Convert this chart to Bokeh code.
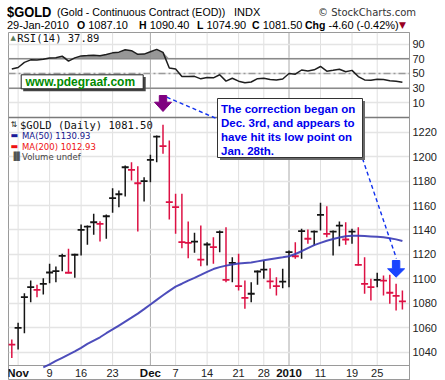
from bokeh.plotting import figure
from bokeh.models import Range1d, FixedTicker, Span, Label, Div, CustomJSTickFormatter
from bokeh.layouts import column
from bokeh.embed import file_html
from bokeh.resources import INLINE

# ------------------------------------------------------------------ data
dates = [
    "2009-10-30",
    "2009-11-02", "2009-11-03", "2009-11-04", "2009-11-05", "2009-11-06",
    "2009-11-09", "2009-11-10", "2009-11-11", "2009-11-12", "2009-11-13",
    "2009-11-16", "2009-11-17", "2009-11-18", "2009-11-19", "2009-11-20",
    "2009-11-23", "2009-11-24", "2009-11-25", "2009-11-26", "2009-11-27",
    "2009-11-30", "2009-12-01", "2009-12-02", "2009-12-03", "2009-12-04",
    "2009-12-07", "2009-12-08", "2009-12-09", "2009-12-10", "2009-12-11",
    "2009-12-14", "2009-12-15", "2009-12-16", "2009-12-17", "2009-12-18",
    "2009-12-21", "2009-12-22", "2009-12-23", "2009-12-24",
    "2009-12-28", "2009-12-29", "2009-12-30", "2009-12-31",
    "2010-01-04", "2010-01-05", "2010-01-06", "2010-01-07", "2010-01-08",
    "2010-01-11", "2010-01-12", "2010-01-13", "2010-01-14", "2010-01-15",
    "2010-01-19", "2010-01-20", "2010-01-21", "2010-01-22",
    "2010-01-25", "2010-01-26", "2010-01-27", "2010-01-28", "2010-01-29",
]
high = [1050.4, 1064.0, 1088.3, 1098.6, 1095.1, 1100.5, 1112.3, 1110.1, 1120.5, 1124.6,
        1120.5, 1144.5, 1143.6, 1153.2, 1147.2, 1152.6, 1174.2, 1172.3, 1192.7, 1195.4,
        1192.2, 1183.2, 1201.5, 1217.3, 1226.0, 1213.2, 1169.6, 1169.6, 1146.9, 1137.7,
        1143.6, 1130.0, 1134.1, 1139.5, 1142.2, 1117.7, 1120.5, 1098.6, 1097.3, 1106.8,
        1115.0, 1108.7, 1101.3, 1108.2, 1123.2, 1130.0, 1140.9, 1140.4, 1139.5, 1162.2,
        1159.4, 1139.5, 1146.9, 1146.3, 1140.9, 1142.2, 1117.7, 1100.0, 1104.9, 1102.7,
        1103.3, 1096.0, 1090.4]
low = [1035.2, 1042.2, 1055.5, 1080.9, 1085.0, 1087.2, 1096.4, 1097.3, 1106.3, 1104.5,
       1100.8, 1119.1, 1127.8, 1136.0, 1130.5, 1132.7, 1154.0, 1158.6, 1167.4, 1180.5,
       1138.7, 1163.3, 1179.1, 1195.4, 1202.3, 1148.5, 1136.8, 1125.1, 1116.9, 1121.3,
       1110.3, 1110.9, 1112.3, 1121.8, 1097.3, 1097.3, 1090.5, 1075.5, 1080.9, 1095.1,
       1100.0, 1091.8, 1086.4, 1092.3, 1093.2, 1116.4, 1116.4, 1128.7, 1127.3, 1139.5,
       1134.1, 1119.1, 1126.7, 1127.8, 1128.7, 1110.9, 1087.8, 1082.3, 1093.2, 1086.4,
       1079.6, 1074.1, 1074.9]
close = [1046.2, 1059.9, 1085.0, 1093.2, 1091.0, 1095.9, 1105.2, 1106.3, 1118.8, 1105.0,
         1119.7, 1140.1, 1142.8, 1146.3, 1145.0, 1151.2, 1166.0, 1169.2, 1191.3, 1189.2,
         1178.2, 1179.9, 1197.4, 1216.4, 1208.5, 1162.7, 1158.6, 1130.0, 1129.5, 1130.5,
         1115.8, 1128.1, 1125.9, 1138.2, 1099.2, 1113.1, 1094.0, 1084.5, 1087.8, 1106.0,
         1107.6, 1098.0, 1094.0, 1097.8, 1121.8, 1118.5, 1139.0, 1132.8, 1138.7, 1152.4,
         1136.8, 1138.7, 1143.6, 1132.2, 1138.7, 1111.5, 1095.9, 1093.2, 1099.2, 1098.6,
         1088.6, 1086.1, 1081.5]
ma50_start = "2009-11-06"
ma50 = [1027.5, 1030.0, 1032.8, 1035.4, 1038.0, 1040.6, 1043.6, 1046.8, 1049.5, 1052.2,
        1055.5, 1058.6, 1061.8, 1065.0, 1068.2, 1071.5, 1075.2, 1079.0, 1082.8, 1086.6,
        1090.2, 1093.6, 1096.0, 1098.6, 1100.8, 1103.2, 1105.7, 1108.0, 1109.6, 1110.8,
        1111.8, 1112.6, 1113.0, 1113.4, 1114.3, 1115.2, 1116.0, 1116.8, 1117.6, 1118.5,
        1120.3, 1122.6, 1125.2, 1127.6, 1129.4, 1131.2, 1132.6, 1133.8, 1134.8, 1135.2,
        1135.2, 1135.0, 1134.7, 1134.4, 1134.0, 1133.2, 1132.3, 1130.9]
rsi = [56.0, 58.1, 65.0, 68.5, 68.3, 69.2, 71.0, 71.3, 73.6, 66.8,
       71.2, 73.9, 74.3, 74.8, 74.2, 75.8, 78.0, 79.0, 82.3, 81.0,
       76.0, 76.3, 79.5, 82.7, 78.7, 57.3, 56.0, 45.9, 45.9, 46.1,
       42.7, 44.5, 44.0, 48.3, 39.6, 43.5, 39.5, 37.3, 38.4, 42.9,
       43.4, 41.8, 41.0, 42.5, 49.9, 49.0, 54.7, 53.3, 54.9, 59.5,
       53.1, 54.4, 55.8, 52.4, 54.2, 45.8, 41.2, 40.8, 42.0, 41.8,
       40.2, 39.3, 37.89]
price_ticks = [1040, 1060, 1080, 1100, 1120, 1140, 1160, 1180, 1200, 1220]
rsi_ticks = [10, 30, 50, 70, 90]
rsi_levels = [30, 50, 70]
tick_dates = ["2009-11-02", "2009-11-09", "2009-11-16", "2009-11-23", "2009-12-01",
              "2009-12-07", "2009-12-14", "2009-12-21", "2009-12-28", "2010-01-04",
              "2010-01-11", "2010-01-19", "2010-01-25"]
tick_labels = ["Nov", "9", "16", "23", "Dec", "7", "14", "21", "28", "2010", "11", "19", "25"]
month_labels = ["Nov", "Dec", "2010"]
correction_start = "2009-12-03"
low_point = "2010-01-28"
ma50_last, ma200_last, rsi_last = 1130.93, 1012.93, 37.89
q_open, q_high, q_low, q_close, q_chg, q_pct = 1087.10, 1090.40, 1074.90, 1081.50, -4.60, -0.42
note_lines = ["The correction began on", "Dec. 3rd, and appears to",
              "have hit its low point on", "Jan. 28th."]

# ------------------------------------------------------------------ layout
HEAD_H = 32
FRAME_W = 401
RSI_H, PRICE_H, LAB_H = 85, 248, 15
FRAME_H = RSI_H + PRICE_H + LAB_H
P_LO, P_HI = 1029.1, 1232.0
PS = PRICE_H / (P_HI - P_LO)          # px per price unit
Y_TOP = P_HI + RSI_H / PS
Y_BOT = P_LO - LAB_H / PS
R_TOP, R_BOT = 105.7, -9.9
RS = RSI_H / (R_TOP - R_BOT)           # px per RSI unit
X0 = -0.524
PXI = 6.3
X1 = X0 + FRAME_W / PXI

def X(rx):            # reference pixel column -> x data
    return X0 + (rx - 8) / PXI

def Y(ry):            # reference pixel row -> y data (price scale)
    return Y_TOP - (ry - HEAD_H) / PS

N = len(dates)
idx = list(range(N))
UP, DOWN = "#141414", "#dd1144"
colors = [DOWN] + [UP if close[i] >= close[i - 1] else DOWN for i in range(1, N)]
ma_x = idx[dates.index(ma50_start):]

p = figure(frame_width=FRAME_W, frame_height=FRAME_H,
           x_range=Range1d(X0, X1), y_range=Range1d(Y_BOT, Y_TOP),
           y_axis_location="right", output_backend="svg", toolbar_location=None,
           min_border_left=8, min_border_right=0, min_border_top=0, min_border_bottom=0,
           background_fill_color="white", border_fill_color="white",
           outline_line_color="#9a9a9a")
p.extra_y_ranges = {"rsi": Range1d(R_BOT - (PRICE_H + LAB_H) / RS, R_TOP)}

# y axis: price ticks + RSI ticks mapped into the upper panel
rsi_pos = [P_HI + (r - R_BOT) * RS / PS for r in rsi_ticks]
yt = FixedTicker(ticks=price_ticks + rsi_pos)
p.yaxis.ticker = yt
p.ygrid.ticker = yt
p.yaxis.formatter = CustomJSTickFormatter(
    args=dict(phi=P_HI, ps=PS, rs=RS, rbot=R_BOT),
    code="if (tick > phi + 0.01) { return ((tick - phi) * ps / rs + rbot).toFixed(0); } return tick.toFixed(0);")
p.yaxis.major_tick_out = 0
p.yaxis.major_tick_in = 0
p.yaxis.minor_tick_line_color = None
p.yaxis.axis_line_color = "#9a9a9a"
p.yaxis.major_label_standoff = 3
p.yaxis.major_label_text_font = "Liberation Sans"
p.yaxis.major_label_text_font_size = "11px"
p.yaxis.major_label_text_color = "#222222"
p.ygrid.grid_line_color = "#e4e4e4"
p.ygrid.grid_line_width = 1.5

# x axis: date ticks (labels drawn in the strip under the price panel)
tick_idx = [dates.index(d) for d in tick_dates]
p.xaxis.visible = False
p.xgrid.visible = False
p.segment(x0=tick_idx, y0=[P_LO] * len(tick_idx), x1=tick_idx, y1=[Y_TOP] * len(tick_idx),
          line_color=["#aaaaaa" if lab in ("Dec", "2010") else "#e0e0e0" for lab in tick_labels],
          line_width=1, level="underlay")
for i, lab in zip(tick_idx, tick_labels):
    bold = lab in month_labels
    p.add_layout(Label(x=i, y=P_LO - 7.3 / PS, text=lab, text_align="center",
                       text_baseline="middle", text_font="Liberation Sans",
                       text_font_style="bold" if bold else "normal",
                       text_font_size="11.5px" if bold else "11px",
                       text_color="#111111" if bold else "#222222"))

# RSI reference levels
for lv in rsi_levels:
    p.add_layout(Span(location=lv, dimension="width", y_range_name="rsi",
                      line_color="#8a8a8a" if lv != 50 else "#9a9a9a",
                      line_width=1.5, line_dash="solid" if lv != 50 else "7 3 2 3",
                      level="underlay"))
# panel separators
p.add_layout(Span(location=P_HI, dimension="width", line_color="#7a7a7a",
                  line_width=1.5, level="underlay"))
p.add_layout(Span(location=P_LO, dimension="width", line_color="#9a9a9a",
                  line_width=1, level="underlay"))

# ---------------- price bars
p.segment(x0=idx, y0=low, x1=idx, y1=high, line_color=colors, line_width=1.5)
p.scatter(x=idx, y=close, marker="dash", size=7, line_width=1.8, line_color=colors)
p.line(ma_x, ma50, line_color="#3a3ab4", line_width=2, line_alpha=0.9)

# ---------------- RSI
rsi_top = [max(v, 70) for v in rsi]
p.varea(x=idx, y1=[70] * N, y2=rsi_top, y_range_name="rsi",
        fill_color="#8c8c8c", fill_alpha=0.9)
p.line(idx, rsi, y_range_name="rsi", line_color="#1e1e1e", line_width=1.5)

# ---------------- annotations
DASH_BLUE = "#1030ee"
ci = dates.index(correction_start)
li = dates.index(low_point)
p.line([ci + 0.6, X(216.7)], [Y(96.7), Y(118.3)], line_color=DASH_BLUE,
       line_width=1.4, line_dash="4 3")
p.line([X(362), li + 0.05], [Y(158), Y(258)], line_color=DASH_BLUE,
       line_width=1.4, line_dash="4 3")

def block_arrow(cx, top, mid, tip, color):
    hs, hh = 3.7 / PXI, 8.5 / PXI
    xs = [cx - hs, cx + hs, cx + hs, cx + hh, cx, cx - hh, cx - hs]
    ys = [Y(top), Y(top), Y(mid), Y(mid), Y(tip), Y(mid), Y(mid)]
    p.patch(xs, ys, fill_color=color, line_color=color, line_width=1)

block_arrow(ci, 95, 101.7, 111, "#800080")
block_arrow(li, 260, 268.3, 276.7, "#1a44ff")

# note box
p.quad(left=X(219.5), right=X(364.5), top=Y(100.5), bottom=Y(159.5),
       fill_color="#6a6a6a", line_color=None)
p.quad(left=X(217), right=X(362), top=Y(98), bottom=Y(157),
       fill_color="white", line_color="#333333", line_width=1)
for ln, ry in zip(note_lines, [108.3, 122.0, 136.0, 150.0]):
    p.add_layout(Label(x=X(220.5), y=Y(ry), text=ln, text_baseline="middle",
                       text_font="Liberation Sans", text_font_style="bold",
                       text_font_size="11.5px", text_color="#0000ee"))

# website box
p.quad(left=X(22.7), right=X(145.2), top=Y(76.5), bottom=Y(90.8),
       fill_color="#444444", line_color=None)
p.quad(left=X(20.7), right=X(142.7), top=Y(74.3), bottom=Y(88.3),
       fill_color="white", line_color="#222222", line_width=1)
p.add_layout(Label(x=X(25), y=Y(81.5), text="www.pdegraaf.com", text_baseline="middle",
                   text_font="Liberation Sans", text_font_style="bold",
                   text_font_size="12px", text_color="#008a00"))

# RSI title
p.add_layout(Label(x=X(10), y=Y(37.5), text="▲", text_baseline="middle",
                   text_font="DejaVu Sans", text_font_size="7px", text_color="#5a7a5a"))
p.add_layout(Label(x=X(16.7), y=Y(37.5), text=f"RSI(14) {rsi_last:.2f}",
                   text_baseline="middle", text_font="DejaVu Sans Mono",
                   text_font_size="10.5px", text_color="#111111"))

# price legend
legend_rows = [
    ("⇅", "#222222", f"$GOLD (Daily) {q_close:.2f}", "#111111", "DejaVu Sans Mono", "10.5px", 124.3),
    ("▬", "#1a1a9a", f"MA(50) {ma50_last:.2f}", "#14148c", "DejaVu Sans", "8.5px", 135.3),
    ("▬", "#ee1111", f"MA(200) {ma200_last:.2f}", "#ee1111", "DejaVu Sans", "8.5px", 146.0),
    ("▐▌", "#555555", "Volume undef", "#444444", "DejaVu Sans", "8.5px", 156.2),
]
for icon, icol, txt, tcol, fnt, fs, ry in legend_rows:
    p.add_layout(Label(x=X(10), y=Y(ry), text=icon, text_baseline="middle",
                       text_font="DejaVu Sans", text_font_size="8px", text_color=icol))
    p.add_layout(Label(x=X(19.5) if fnt.endswith("Mono") else X(21.5), y=Y(ry), text=txt,
                       text_baseline="middle", text_font=fnt, text_font_size=fs,
                       text_color=tcol))

# ------------------------------------------------------------------ header
def span(left, top, html, size="11px", bold=False, color="#000", font="'Liberation Sans'",
         lh=11, extra=""):
    w = "bold" if bold else "normal"
    return (f'<span style="position:absolute;left:{left}px;top:{top}px;font-size:{size};'
            f'font-weight:{w};color:{color};font-family:{font};line-height:{lh}px;{extra}">'
            f'{html}</span>')

def group(left, letter, num):
    return span(left, 20, f'<b style="font-size:10.5px">{letter}</b>&nbsp;{num}')

hdr = ('<div style="position:relative;width:437px;height:32px;white-space:nowrap;">'
       + span(7, 5, "$GOLD", "15px", True, lh=14,
              extra="transform:scaleX(0.86);transform-origin:0 0;")
       + span(57, 7, "(Gold - Continuous Contract (EOD))", "10.6px")
       + span(234, 7, "INDX", "11px")
       + span(318, 7, "© StockCharts.com", "10px", False, "#333", "'DejaVu Sans'")
       + span(7, 20, "29-Jan-2010", "11px")
       + group(77, "O", f"{q_open:.2f}")
       + group(139, "H", f"{q_high:.2f}")
       + group(197, "L", f"{q_low:.2f}")
       + group(252, "C", f"{q_close:.2f}")
       + group(305, "Chg", f"{q_chg:.2f} ({q_pct:.2f}%)")
       + span(399, 20, "▼", "9px", False, "#990022", "'DejaVu Sans'")
       + '</div>')
head = Div(text=hdr, width=437, height=HEAD_H, margin=(0, 0, 0, 0))

layout = column(head, p, spacing=0)
open("out.html", "w").write(file_html(layout, INLINE))
